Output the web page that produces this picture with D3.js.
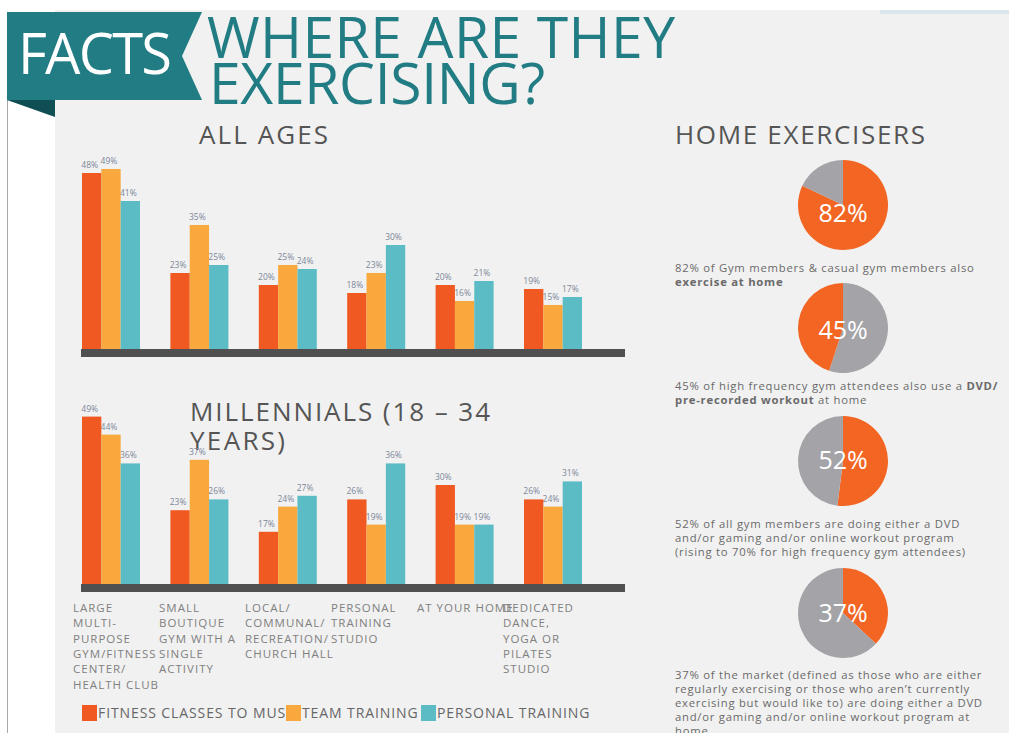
<!DOCTYPE html>
<html>
<head>
<meta charset="utf-8">
<script src="https://cdn.jsdelivr.net/npm/d3@7"></script>
<style>
  body { margin: 0; background: #fff; }
  svg { display: block; font-family: "Open Sans", sans-serif; }
</style>
</head>
<body>
<div id="chart"></div>
<script>
// ---- data ----
var categories = ["gym", "boutique", "local", "studio", "home", "dance"];
var categoryLines = [
  ["LARGE", "MULTI-", "PURPOSE", "GYM/FITNESS", "CENTER/", "HEALTH CLUB"],
  ["SMALL", "BOUTIQUE", "GYM WITH A", "SINGLE", "ACTIVITY"],
  ["LOCAL/", "COMMUNAL/", "RECREATION/", "CHURCH HALL"],
  ["PERSONAL", "TRAINING", "STUDIO"],
  ["AT YOUR HOME"],
  ["DEDICATED", "DANCE,", "YOGA OR", "PILATES", "STUDIO"]
];
var seriesNames = ["FITNESS CLASSES TO MUSIC", "TEAM TRAINING", "PERSONAL TRAINING"];

var allMusic    = [48, 23, 20, 18, 20, 19];
var allTeam     = [49, 35, 25, 23, 16, 15];
var allPersonal = [41, 25, 24, 30, 21, 17];

var milMusic    = [49, 23, 17, 26, 30, 26];
var milTeam     = [44, 37, 24, 19, 19, 24];
var milPersonal = [36, 26, 27, 36, 19, 31];

var homeValues = [82, 45, 52, 37];

// ---- setup ----
var width = 1009, height = 733;
var colors = ["#f05a22", "#f8a83c", "#5cbcc6"];
var teal = "#217c83";

var svg = d3.select("#chart").append("svg")
  .attr("width", width)
  .attr("height", height);

// page frame
svg.append("rect").attr("x", 55).attr("y", 10).attr("width", width - 55).attr("height", height - 10).attr("fill", "#f1f1f1");
svg.append("rect").attr("x", 880).attr("y", 10).attr("width", 129).attr("height", 4).attr("fill", "#dbe5ec");
svg.append("line").attr("x1", 7.5).attr("x2", 7.5).attr("y1", 95).attr("y2", height).attr("stroke", "#a8a8a8");

// banner
svg.append("path").attr("d", "M7,100 L55,100 L55,117 Z").attr("fill", "#0f4f54");
svg.append("path").attr("d", "M7,12 L202,12 L182,56 L202,100 L7,100 Z").attr("fill", teal);

function fit(sel, w) {
  sel.attr("textLength", w).attr("lengthAdjust", "spacing");
  return sel;
}

fit(svg.append("text").attr("x", 18).attr("y", 74).attr("font-size", 56).attr("fill", "#fff").text("FACTS"), 154);
fit(svg.append("text").attr("x", 207).attr("y", 58).attr("font-size", 57).attr("fill", teal).text("WHERE ARE THEY"), 468);
fit(svg.append("text").attr("x", 209).attr("y", 104).attr("font-size", 57).attr("fill", teal).text("EXERCISING?"), 336);

fit(svg.append("text").attr("x", 199).attr("y", 144).attr("font-size", 26).attr("fill", "#555").text("ALL AGES"), 129);
fit(svg.append("text").attr("x", 675).attr("y", 144).attr("font-size", 26).attr("fill", "#555").text("HOME EXERCISERS"), 250);
fit(svg.append("text").attr("x", 190).attr("y", 421).attr("font-size", 26).attr("fill", "#555").text("MILLENNIALS (18 \u2013 34"), 300);
fit(svg.append("text").attr("x", 190).attr("y", 450).attr("font-size", 26).attr("fill", "#555").text("YEARS)"), 95);

// ---- bar charts ----
var x0 = d3.scaleBand().domain(categories).range([82, 582]).paddingInner(0.344).paddingOuter(0);
var x1 = d3.scaleBand().domain(seriesNames).range([0, x0.bandwidth()]);

function barChart(values, domain, base, top) {
  var y = d3.scaleLinear().domain(domain).range([base, top]);
  var rows = categories.map(function (c, i) {
    return { cat: c, vals: values.map(function (s, j) { return { name: seriesNames[j], v: s[i] }; }) };
  });
  var g = svg.append("g");

  // value labels sit under the bars, like in the original
  var lg = g.selectAll(".lab").data(rows).enter().append("g")
    .attr("class", "lab")
    .attr("transform", function (d) { return "translate(" + x0(d.cat) + ",0)"; });
  lg.selectAll("text").data(function (d) { return d.vals; }).enter().append("text")
    .attr("x", function (d) { return x1(d.name) + x1.bandwidth() / 2 - 2; })
    .attr("y", function (d) { return y(d.v) - 5; })
    .attr("text-anchor", "middle")
    .attr("font-size", 8.5)
    .attr("fill", "#7c8799")
    .text(function (d) { return d.v + "%"; });

  var bg = g.selectAll(".grp").data(rows).enter().append("g")
    .attr("class", "grp")
    .attr("transform", function (d) { return "translate(" + x0(d.cat) + ",0)"; });
  bg.selectAll("rect").data(function (d) { return d.vals; }).enter().append("rect")
    .attr("x", function (d) { return x1(d.name); })
    .attr("y", function (d) { return y(d.v); })
    .attr("width", x1.bandwidth())
    .attr("height", function (d) { return base - y(d.v); })
    .attr("fill", function (d, i) { return colors[i]; });

  g.append("rect").attr("x", 81).attr("y", base).attr("width", 544).attr("height", 8).attr("fill", "#505050");
}

barChart([allMusic, allTeam, allPersonal], [4, 50], 349, 165);
barChart([milMusic, milTeam, milPersonal], [2.5, 50], 584, 413);

// category labels
var xl = d3.scalePoint().domain(categories).range([73, 503]);
var cl = svg.append("g").attr("font-size", 11.5).attr("fill", "#808080").attr("letter-spacing", 1.0);
cl.selectAll("text").data(categories).enter().append("text")
  .attr("x", function (d) { return xl(d); })
  .attr("y", 612)
  .each(function (d, i) {
    var t = d3.select(this);
    categoryLines[i].forEach(function (line, k) {
      t.append("tspan").attr("x", xl(d)).attr("y", 612 + k * 15.3).text(line);
    });
  });

// legend
var legendX = [82, 286, 421];
var lgd = svg.append("g");
seriesNames.forEach(function (s, i) {
  lgd.append("rect").attr("x", legendX[i]).attr("y", 705).attr("width", 15).attr("height", 16).attr("fill", colors[i]);
  lgd.append("text").attr("x", legendX[i] + 16).attr("y", 718).attr("font-size", 14).attr("fill", "#666")
    .attr("letter-spacing", 0.9).text(s);
});

// ---- home exerciser pies ----
var pieCY = [205, 328, 461, 613];
var pieTextDy = [8, 2, -1, 0];
var orangeLeft = [false, true, false, false];
var arc = d3.arc().innerRadius(0).outerRadius(45);

homeValues.forEach(function (v, i) {
  var g = svg.append("g").attr("transform", "translate(843," + pieCY[i] + ")");
  var slices = d3.pie().sort(null).value(function (d) { return d.v; })(
    orangeLeft[i] ? [{ v: 100 - v, c: "#a4a4a8" }, { v: v, c: "#f26522" }]
                  : [{ v: v, c: "#f26522" }, { v: 100 - v, c: "#a4a4a8" }]);
  g.selectAll("path").data(slices).enter().append("path")
    .attr("d", arc)
    .attr("fill", function (d) { return d.data.c; });
  g.append("text").attr("y", pieTextDy[i]).attr("dy", "0.35em").attr("text-anchor", "middle")
    .attr("font-size", 25).attr("fill", "#fff").text(v + "%");
});

// captions
var captions = [
  { y: 272, lines: [[["82% of Gym members & casual gym members also", false]], [["exercise at home", true]]] },
  { y: 390, lines: [[["45% of high frequency gym attendees also use a ", false], ["DVD/", true]],
                    [["pre-recorded workout", true], [" at home", false]]] },
  { y: 528, lines: [[["52% of all gym members are doing either a DVD", false]],
                    [["and/or gaming and/or online workout program", false]],
                    [["(rising to 70% for high frequency gym attendees)", false]]] },
  { y: 679, lines: [[["37% of the market (defined as those who are either", false]],
                    [["regularly exercising or those who aren\u2019t currently", false]],
                    [["exercising but would like to) are doing either a DVD", false]],
                    [["and/or gaming and/or online workout program at", false]],
                    [["home", false]]] }
];
var cg = svg.append("g").attr("font-size", 11.3).attr("fill", "#6a6a6a").attr("letter-spacing", 0.75);
captions.forEach(function (c) {
  c.lines.forEach(function (parts, k) {
    var t = cg.append("text").attr("x", 675).attr("y", c.y + k * 14);
    parts.forEach(function (p) {
      t.append("tspan").attr("font-weight", p[1] ? "bold" : null).text(p[0]);
    });
  });
});
</script>
</body>
</html>
